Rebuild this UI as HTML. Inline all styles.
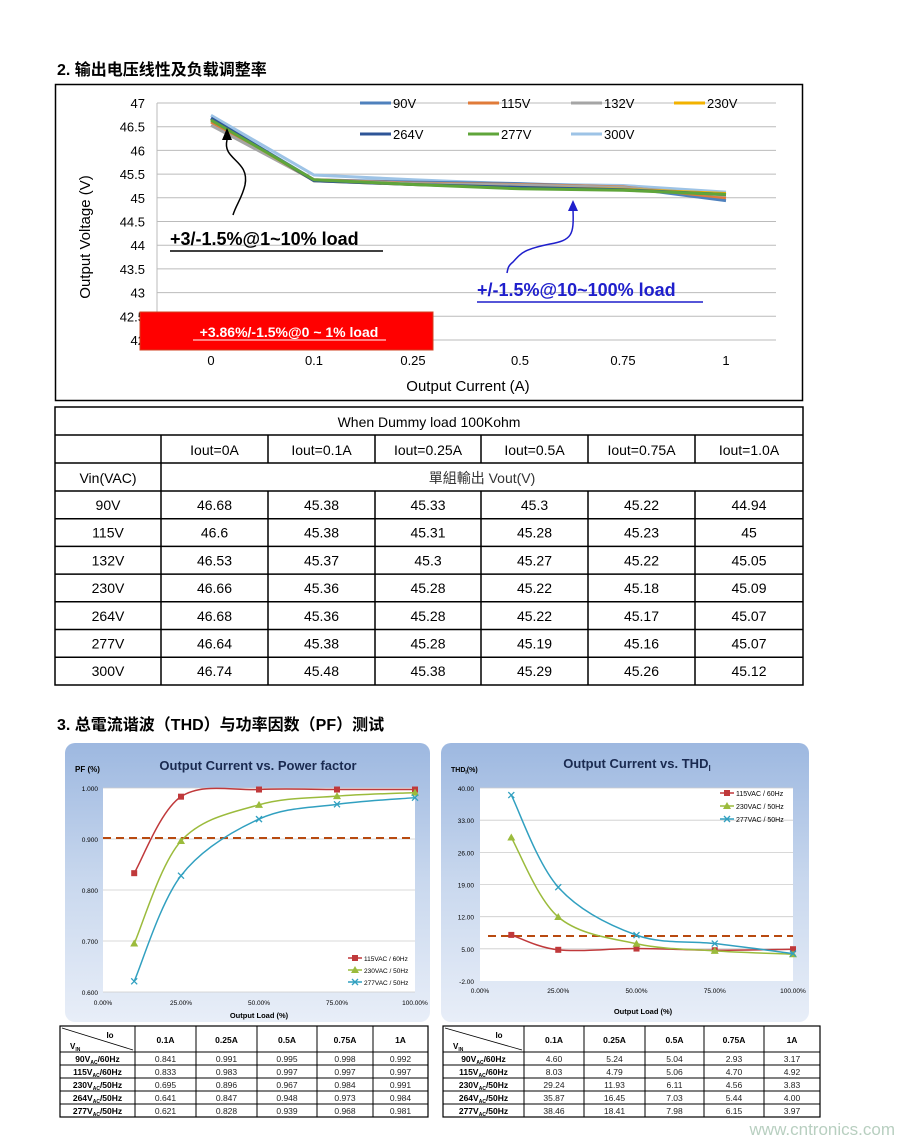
<!DOCTYPE html>
<html><head><meta charset="utf-8">
<style>
body{margin:0;background:#fff;width:915px;height:1144px;overflow:hidden;font-family:"Liberation Sans","Noto Sans CJK SC",sans-serif;}
svg{position:absolute;left:0;top:0}
</style></head><body>
<svg id="s" width="915" height="1144" xmlns="http://www.w3.org/2000/svg" font-family="Liberation Sans, Noto Sans CJK SC, sans-serif">
<defs>
<linearGradient id="bg" x1="0" y1="0" x2="0" y2="1">
<stop offset="0" stop-color="#9db8e0"/><stop offset="0.5" stop-color="#c9d8ee"/><stop offset="1" stop-color="#e8eef8"/>
</linearGradient>
</defs>
</svg>
<script>
const s=document.getElementById('s');let h='';
function T(x,y,t,o={}){h+=`<text x="${x}" y="${y}" font-size="${o.fs||14}" fill="${o.c||'#000'}" text-anchor="${o.a||'middle'}" font-weight="${o.b?'bold':'normal'}" ${o.ex||''}>${t}</text>`;}
function L(x1,y1,x2,y2,c,w,ex=''){h+=`<line x1="${x1}" y1="${y1}" x2="${x2}" y2="${y2}" stroke="${c}" stroke-width="${w}" ${ex}/>`;}
function R(x,y,w,ht,f,st='none',sw=1,ex=''){h+=`<rect x="${x}" y="${y}" width="${w}" height="${ht}" fill="${f}" stroke="${st}" stroke-width="${sw}" ${ex}/>`;}
// titles
T(57,75,'2.  输出电压线性及负载调整率',{a:'start',fs:16,b:1});
T(57,730,'3.  总電流谐波（THD）与功率因数（PF）测试',{a:'start',fs:16,b:1});
// top chart
R(55.5,84.5,747,316,'#fff','#000',1.5);
const yv=v=>103+(47-v)*47.4;
const xs=[211,314,413,520,623,726];
for(let i=0;i<=10;i++){const v=47-i*0.5;L(157,yv(v),776,yv(v),'#bbb',1);T(145,yv(v)+5,String(v),{a:'end',fs:13});}
L(157,103,157,340,'#bbb',1);
const lab=['0','0.1','0.25','0.5','0.75','1'];xs.forEach((x,i)=>T(x,365,lab[i],{fs:13}));
T(468,391,'Output Current (A)',{fs:15});
T(90,237,'Output Voltage (V)',{fs:15,ex:'transform="rotate(-90 90 237)"'});
const ser=[['90V','#4f81bd',[46.68,45.38,45.33,45.3,45.22,44.94]],['115V','#e07b39',[46.6,45.38,45.31,45.28,45.23,45]],['132V','#a5a5a5',[46.53,45.37,45.3,45.27,45.22,45.05]],['230V','#f2b200',[46.66,45.36,45.28,45.22,45.18,45.09]],['264V','#2e5597',[46.68,45.36,45.28,45.22,45.17,45.07]],['277V','#5fa53a',[46.64,45.38,45.28,45.19,45.16,45.07]],['300V','#9dc3e6',[46.74,45.48,45.38,45.29,45.26,45.12]]];
[6,0,1,2,3,4,5].forEach(k=>{const [n,c,d]=ser[k];h+=`<polyline fill="none" stroke="${c}" stroke-width="3" points="${d.map((v,i)=>xs[i]+','+yv(v)).join(' ')}"/>`;});
const lg=[[360,103],[468,103],[571,103],[674,103],[360,134],[468,134],[571,134]];
ser.forEach(([n,c],i)=>{const [x,y]=lg[i];L(x,y,x+31,y,c,3);T(x+33,y+5,n,{a:'start',fs:13});});
T(170,245,'+3/-1.5%@1~10% load',{a:'start',fs:18,b:1});L(170,251,383,251,'#000',1.5);
h+=`<path d="M227,128 L222,140 L232,140 Z" fill="#000"/><path d="M227,140 C222,160 250,160 245,185 C242,198 236,205 233,215" stroke="#000" stroke-width="1.5" fill="none"/>`;
T(477,296,'+/-1.5%@10~100% load',{a:'start',fs:18,b:1,c:'#1f1fcc'});L(477,302,703,302,'#1f1fcc',1.5);
h+=`<path d="M573,200 L568,211 L578,211 Z" fill="#1f1fcc"/><path d="M573,210 C574,235 572,240 550,244 C520,250 520,255 513,262 C508,266 508,268 507,273" stroke="#1f1fcc" stroke-width="1.5" fill="none"/>`;
R(140,312,293,38,'#ff0000','#d04020',1);
T(289,337,'+3.86%/-1.5%@0 ~ 1% load',{fs:14,b:1,c:'#fff'});L(193,340,386,340,'#fff',1);
// table
const cx=[55,161,268,375,481,588,695,803];
const ry=[407,435,463,491];for(let i=1;i<=7;i++)ry.push(491+i*27.7);
R(55,407,748,278,'#fff','#000',1.5);
ry.forEach((y,i)=>{if(i>0&&i<ry.length-1)L(55,y,803,y,'#000',1.5);});
cx.slice(1,7).forEach((x,i)=>{L(x,435,x,463,'#000',1.5);L(x,491,x,685,'#000',1.5);});
L(161,463,161,491,'#000',1.5);
T(429,427,'When Dummy load 100Kohm',{fs:14});
['Iout=0A','Iout=0.1A','Iout=0.25A','Iout=0.5A','Iout=0.75A','Iout=1.0A'].forEach((t,i)=>T((cx[i+1]+cx[i+2])/2,455,t,{fs:14}));
T(108,483,'Vin(VAC)',{fs:14});T(482,483,'單組輸出  Vout(V)',{fs:14,c:'#333'});
const tb=[['90V',46.68,45.38,45.33,45.3,45.22,44.94],['115V',46.6,45.38,45.31,45.28,45.23,45],['132V',46.53,45.37,45.3,45.27,45.22,45.05],['230V',46.66,45.36,45.28,45.22,45.18,45.09],['264V',46.68,45.36,45.28,45.22,45.17,45.07],['277V',46.64,45.38,45.28,45.19,45.16,45.07],['300V',46.74,45.48,45.38,45.29,45.26,45.12]];
tb.forEach((r,j)=>r.forEach((v,i)=>T((cx[i]+cx[i+1])/2,ry[3+j]+19,v,{fs:14})));
// smooth path helper
function sm(p){let d=`M${p[0][0]},${p[0][1]}`;for(let i=0;i<p.length-1;i++){const p0=p[i-1]||p[i],p1=p[i],p2=p[i+1],p3=p[i+2]||p2;d+=` C${p1[0]+(p2[0]-p0[0])/6},${p1[1]+(p2[1]-p0[1])/6} ${p2[0]-(p3[0]-p1[0])/6},${p2[1]-(p3[1]-p1[1])/6} ${p2[0]},${p2[1]}`;}return d;}
function mk(x,y,t,c){if(t==0)R(x-3,y-3,6,6,c);else if(t==1)h+=`<path d="M${x},${y-4} L${x+4},${y+3} L${x-4},${y+3}Z" fill="${c}"/>`;else{L(x-3,y-3,x+3,y+3,c,1.3);L(x-3,y+3,x+3,y-3,c,1.3);}}
const cols=['#c0393b','#9bbb3c','#31a0c0'];const pc=[10,25,50,75,100];
// PF panel
R(65,743,365,279,'url(#bg)','none',0,'rx="10"');
T(258,770,'Output Current  vs. Power  factor',{fs:13,b:1,c:'#1a2a50'});
T(75,772,'PF (%)',{a:'start',fs:8,b:1});
R(103,788,312,204,'#fff');
const px=p=>103+p*3.12,py=v=>992-(v-0.6)*510;
[1,0.9,0.8,0.7,0.6].forEach(v=>{L(103,py(v),415,py(v),'#ccc',0.8);T(98,py(v)+3,v.toFixed(3),{a:'end',fs:6.5});});
[0,25,50,75,100].forEach(p=>T(px(p),1005,p.toFixed(2)+'%',{fs:6.5}));
T(259,1018,'Output Load (%)',{fs:7.5,b:1});
L(103,838,415,838,'#b84a10',2,'stroke-dasharray="8,5"');
const pf=[[0.833,0.983,0.997,0.997,0.997],[0.695,0.896,0.967,0.984,0.991],[0.621,0.828,0.939,0.968,0.981]];
pf.forEach((d,k)=>{const pts=d.map((v,i)=>[px(pc[i]),py(v)]);h+=`<path d="${sm(pts)}" fill="none" stroke="${cols[k]}" stroke-width="1.5"/>`;pts.forEach(q=>mk(q[0],q[1],k,cols[k]));});
['115VAC / 60Hz','230VAC / 50Hz','277VAC / 50Hz'].forEach((t,k)=>{const y=958+k*12;L(348,y,362,y,cols[k],1.5);mk(355,y,k,cols[k]);T(364,y+3,t,{a:'start',fs:6.5});});
// THD panel
R(441,743,368,279,'url(#bg)','none',0,'rx="10"');
T(637,768,'Output Current  vs. THD<tspan font-size="8" dy="3">I</tspan>',{fs:13,b:1,c:'#1a2a50'});
T(451,772,'THD<tspan font-size="5" dy="2">I</tspan><tspan dy="-2">(%)</tspan>',{a:'start',fs:7,b:1});
R(480,788,313,193,'#fff');
const tx=p=>480+p*3.13,ty=v=>981-(v+2)*4.595;
[40,33,26,19,12,5,-2].forEach(v=>{if(v>-2)L(480,ty(v),793,ty(v),'#ccc',0.8);T(474,ty(v)+3,v.toFixed(2),{a:'end',fs:6.5});});
[0,25,50,75,100].forEach(p=>T(tx(p),993,p.toFixed(2)+'%',{fs:6.5}));
T(643,1014,'Output Load (%)',{fs:7.5,b:1});
L(488,936,793,936,'#b84a10',2,'stroke-dasharray="8,5"');
const th=[[8.03,4.79,5.06,4.70,4.92],[29.24,11.93,6.11,4.56,3.83],[38.46,18.41,7.98,6.15,3.97]];
th.forEach((d,k)=>{const pts=d.map((v,i)=>[tx(pc[i]),ty(v)]);h+=`<path d="${sm(pts)}" fill="none" stroke="${cols[k]}" stroke-width="1.5"/>`;pts.forEach(q=>mk(q[0],q[1],k,cols[k]));});
['115VAC / 60Hz','230VAC / 50Hz','277VAC / 50Hz'].forEach((t,k)=>{const y=793+k*13;L(720,y,734,y,cols[k],1.5);mk(727,y,k,cols[k]);T(736,y+3,t,{a:'start',fs:7});});
// bottom tables
function bt(x0,cw,data){const rows=[1026,1052,1065,1078,1091,1104,1117];const w=cw.reduce((a,b)=>a+b,0);R(x0,1026,w,91,'#fff','#000',1.2);
rows.slice(1,6).forEach(y=>L(x0,y,x0+w,y,'#000',1));let x=x0;cw.slice(0,5).forEach(c=>{x+=c;L(x,1026,x,1117,'#000',1);});
L(x0+2,1028,x0+cw[0]-2,1050,'#000',0.8);T(x0+cw[0]-25,1038,'Io',{fs:8,b:1});T(x0+10,1049,'V<tspan font-size="5" dy="2">IN</tspan>',{a:'start',fs:8,b:1});
x=x0+cw[0];['0.1A','0.25A','0.5A','0.75A','1A'].forEach((t,i)=>{T(x+cw[i+1]/2,1043,t,{fs:8.5,b:1});x+=cw[i+1];});
const lb=[['90','60'],['115','60'],['230','50'],['264','50'],['277','50']];
data.forEach((r,j)=>{const y=rows[j+1]+10;T(x0+cw[0]/2,y,`${lb[j][0]}V<tspan font-size="5" dy="2">AC</tspan><tspan dy="-2">/${lb[j][1]}Hz</tspan>`,{fs:8.5,b:1});let xx=x0+cw[0];r.forEach((v,i)=>{T(xx+cw[i+1]/2,y,v,{fs:8.5,c:'#222'});xx+=cw[i+1];});});}
bt(60,[75,61,61,60,56,55],[['0.841','0.991','0.995','0.998','0.992'],['0.833','0.983','0.997','0.997','0.997'],['0.695','0.896','0.967','0.984','0.991'],['0.641','0.847','0.948','0.973','0.984'],['0.621','0.828','0.939','0.968','0.981']]);
bt(443,[81,60,61,59,60,56],[['4.60','5.24','5.04','2.93','3.17'],['8.03','4.79','5.06','4.70','4.92'],['29.24','11.93','6.11','4.56','3.83'],['35.87','16.45','7.03','5.44','4.00'],['38.46','18.41','7.98','6.15','3.97']]);
T(895,1135,'www.cntronics.com',{a:'end',fs:17,c:'#b8cfc0'});
s.innerHTML+=h;
</script>
</body></html>
